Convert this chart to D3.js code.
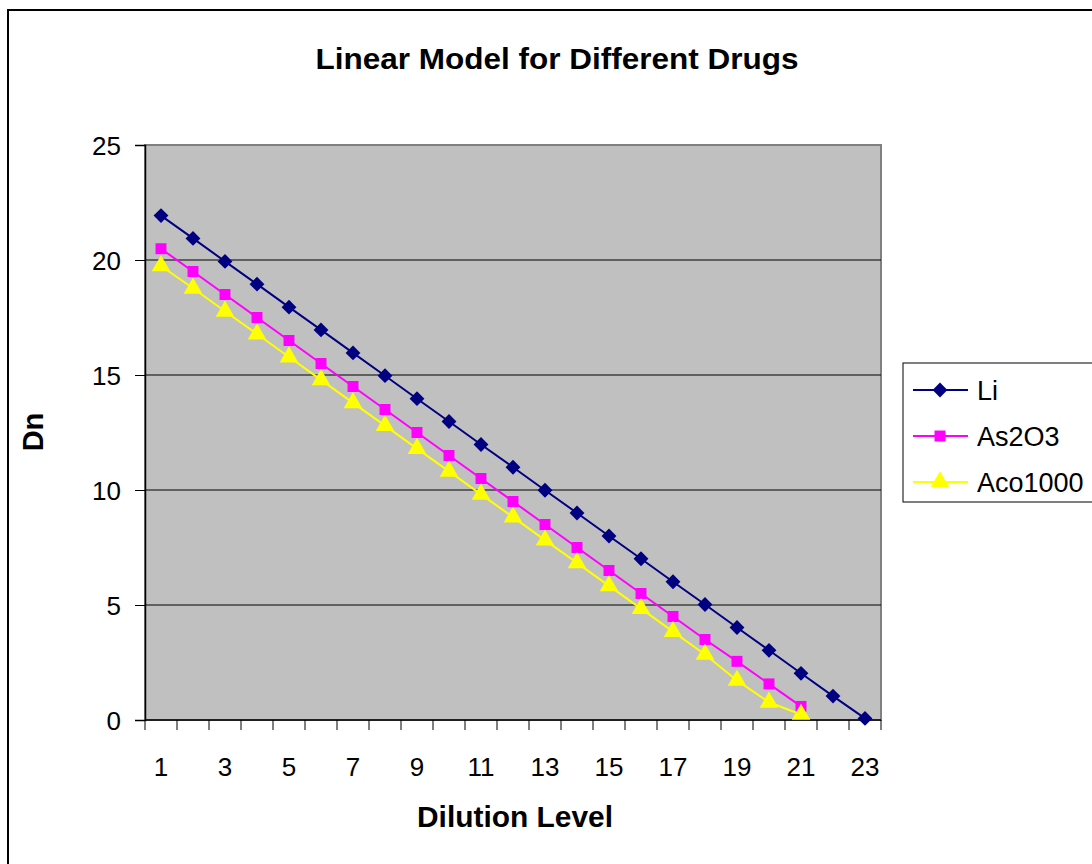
<!DOCTYPE html>
<html>
<head>
<meta charset="utf-8">
<script src="https://cdn.jsdelivr.net/npm/d3@7"></script>
<style>
  body { margin: 0; background: #fff; }
  svg text { font-family: Arial, "Liberation Sans", sans-serif; }
</style>
</head>
<body>
<svg id="chart" width="1092" height="864"></svg>
<script>
// Dilution levels (category axis)
const levels = d3.range(1, 24);
const xTickLabels = [1, 3, 5, 7, 9, 11, 13, 15, 17, 19, 21, 23];
const yTicks = [0, 5, 10, 15, 20, 25];

// Series values
const li = [21.93, 20.94, 19.94, 18.95, 17.95, 16.96, 15.96, 14.97, 13.97, 12.98, 11.98, 10.99,
            9.99, 9.0, 8.0, 7.01, 6.01, 5.02, 4.02, 3.03, 2.03, 1.04, 0.07];
const as2o3 = [20.49, 19.5, 18.5, 17.5, 16.5, 15.5, 14.5, 13.5, 12.5, 11.5, 10.5, 9.5,
               8.5, 7.5, 6.5, 5.5, 4.5, 3.5, 2.55, 1.57, 0.59];
const aco1000 = [19.74, 18.77, 17.77, 16.78, 15.78, 14.79, 13.79, 12.8, 11.8, 10.81, 9.81, 8.82,
                 7.82, 6.83, 5.83, 4.84, 3.84, 2.85, 1.72, 0.77, 0.24];

const seriesNames = ["Li", "As2O3", "Aco1000"];
const seriesColors = ["#000080", "#FF00FF", "#FFFF00"];
const seriesShapes = [d3.symbolSquare, d3.symbolSquare, d3.symbolTriangle];
const seriesSizes = [110, 120, 150];
const seriesRotate = [45, 0, 0];
const seriesValues = [li, as2o3, aco1000];

const svg = d3.select("#chart");

// Outer chart border
svg.append("rect")
    .attr("x", 8).attr("y", 10)
    .attr("width", 1100).attr("height", 880)
    .attr("fill", "#fff")
    .attr("stroke", "#000").attr("stroke-width", 2);

const plot = { left: 145, top: 145, right: 881, bottom: 720 };

const x = d3.scaleBand()
    .domain(levels)
    .range([plot.left, plot.right]);

const y = d3.scaleLinear()
    .domain([0, 25])
    .range([plot.bottom, plot.top]);

// Plot area background
svg.append("rect")
    .attr("x", plot.left).attr("y", plot.top)
    .attr("width", plot.right - plot.left).attr("height", plot.bottom - plot.top)
    .attr("fill", "#C0C0C0")
    .attr("stroke", "#808080").attr("stroke-width", 2);

// Horizontal gridlines
svg.append("g")
    .selectAll("line")
    .data(yTicks.filter(d => d > 0 && d < 25))
    .enter().append("line")
    .attr("x1", plot.left).attr("x2", plot.right)
    .attr("y1", d => y(d)).attr("y2", d => y(d))
    .attr("stroke", "#000").attr("stroke-width", 1);

// Y axis
const yAxis = svg.append("g")
    .attr("transform", `translate(${plot.left},0)`)
    .call(d3.axisLeft(y).tickValues(yTicks).tickSize(10).tickPadding(14));
yAxis.select(".domain").attr("stroke", "#000").attr("stroke-width", 1.5);
yAxis.selectAll(".tick line").attr("stroke", "#000");
yAxis.selectAll("text").attr("font-size", 26).attr("fill", "#000").attr("dy", "0.36em");

// X axis: ticks between categories, labels on odd levels
const xAxis = svg.append("g")
    .attr("transform", `translate(0,${plot.bottom})`);
xAxis.append("line")
    .attr("x1", plot.left).attr("x2", plot.right)
    .attr("stroke", "#000").attr("stroke-width", 1.5);
xAxis.selectAll(".tk")
    .data(levels.concat([24]))
    .enter().append("line")
    .attr("x1", d => d <= 23 ? x(d) : plot.right)
    .attr("x2", d => d <= 23 ? x(d) : plot.right)
    .attr("y1", 0).attr("y2", 10)
    .attr("stroke", "#000");
xAxis.selectAll(".lbl")
    .data(xTickLabels)
    .enter().append("text")
    .attr("x", d => x(d) + x.bandwidth() / 2)
    .attr("y", 56)
    .attr("text-anchor", "middle")
    .attr("font-size", 26)
    .text(d => d);

// Series lines and markers
seriesValues.forEach((vals, i) => {
    const pts = vals.map((v, j) => ({ lvl: levels[j], v }));
    const line = d3.line()
        .x(d => x(d.lvl) + x.bandwidth() / 2)
        .y(d => y(d.v));
    svg.append("path")
        .datum(pts)
        .attr("d", line)
        .attr("fill", "none")
        .attr("stroke", seriesColors[i])
        .attr("stroke-width", 2);
    const sym = d3.symbol().type(seriesShapes[i]).size(seriesSizes[i]);
    svg.append("g").selectAll("path")
        .data(pts)
        .enter().append("path")
        .attr("d", sym)
        .attr("transform", d => `translate(${x(d.lvl) + x.bandwidth() / 2},${y(d.v)}) rotate(${seriesRotate[i]})`)
        .attr("fill", seriesColors[i]);
});

// Titles
svg.append("text")
    .attr("x", 557).attr("y", 69)
    .attr("text-anchor", "middle")
    .attr("font-size", 29).attr("font-weight", "bold")
    .attr("textLength", 483).attr("lengthAdjust", "spacingAndGlyphs")
    .text("Linear Model for Different Drugs");

svg.append("text")
    .attr("x", 515).attr("y", 827)
    .attr("text-anchor", "middle")
    .attr("font-size", 29).attr("font-weight", "bold")
    .attr("textLength", 196).attr("lengthAdjust", "spacingAndGlyphs")
    .text("Dilution Level");

svg.append("text")
    .attr("transform", "translate(43,432) rotate(-90)")
    .attr("text-anchor", "middle")
    .attr("font-size", 29).attr("font-weight", "bold")
    .text("Dn");

// Legend
const legend = svg.append("g");
legend.append("rect")
    .attr("x", 903).attr("y", 363)
    .attr("width", 220).attr("height", 139)
    .attr("fill", "#fff")
    .attr("stroke", "#000").attr("stroke-width", 1);

seriesNames.forEach((name, i) => {
    const ly = 390 + i * 46;
    legend.append("line")
        .attr("x1", 913).attr("x2", 968)
        .attr("y1", ly).attr("y2", ly)
        .attr("stroke", seriesColors[i]).attr("stroke-width", 2);
    legend.append("path")
        .attr("d", d3.symbol().type(seriesShapes[i]).size(seriesSizes[i]))
        .attr("transform", `translate(940,${ly}) rotate(${seriesRotate[i]})`)
        .attr("fill", seriesColors[i]);
    legend.append("text")
        .attr("x", 977).attr("y", ly + 10)
        .attr("font-size", 27)
        .text(name);
});
</script>
</body>
</html>
